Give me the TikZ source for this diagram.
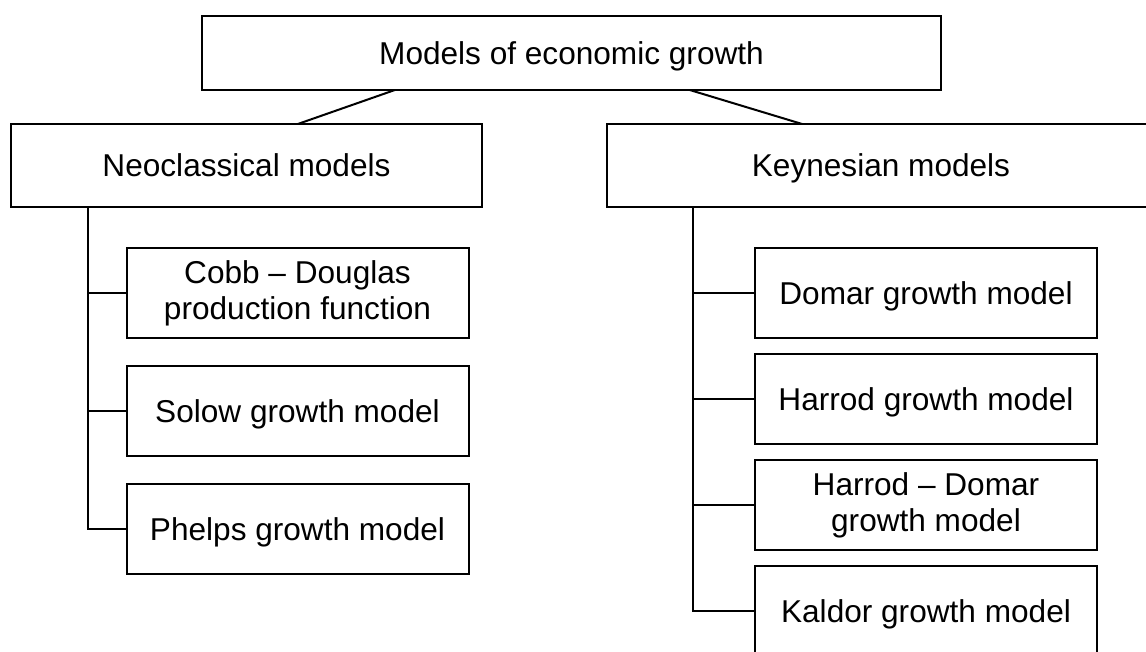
\documentclass[tikz,border=0pt]{standalone}
\usepackage{fontspec}
\setmainfont{Liberation Sans}
\usepackage{tikz}
\usetikzlibrary{positioning,calc}

\begin{document}
\begin{tikzpicture}[
        x=0.75pt, y=-0.75pt,
        font=\fontsize{23.7}{27}\selectfont,
        box/.style={draw, line width=1.5pt, align=center, inner sep=0pt, outer sep=0pt},
        oneline/.style={text depth=0pt},
        headbox/.style={box, oneline, minimum width=554.25pt, minimum height=55.5pt},
        groupbox/.style={box, oneline, minimum height=62.25pt},
        modelbox/.style={box, minimum width=256.5pt, minimum height=67.5pt},
        link/.style={line width=1.5pt}
    ]
        \clip (0,0) rectangle (1146,652);
        \node[headbox] (growth) at (571.5,53) {Models of economic growth};
        \node[groupbox, minimum width=353.25pt] (neo) at (246.5,165.5) {Neoclassical models};
        \node[groupbox, minimum width=411pt] (keyn) at (881,165.5) {Keynesian models};
        % neoclassical branch
        \node[modelbox] (cobb) at (297.5,293) {Cobb -- Douglas\\production function};
        \node[modelbox, oneline, below=21pt of cobb] (solow) {Solow growth model};
        \node[modelbox, oneline, below=21pt of solow] (phelps) {Phelps growth model};
        % keynesian branch
        \node[modelbox, oneline] (domar) at (926,293) {Domar growth model};
        \node[modelbox, oneline, below=12pt of domar] (harrod) {Harrod growth model};
        \node[modelbox, below=12pt of harrod] (hd) {Harrod -- Domar\\growth model};
        \node[modelbox, oneline, below=12pt of hd] (kaldor) {Kaldor growth model};
        \coordinate (neotrunk) at ([xshift=57.75pt]neo.south west);
        \coordinate (keyntrunk) at ([xshift=64.5pt]keyn.south west);
        \draw[link] ($(growth.south west)!0.261!(growth.south east)$) -- ($(neo.north west)!0.609!(neo.north east)$);
        \draw[link] ($(growth.south west)!0.660!(growth.south east)$) -- ($(keyn.north west)!0.356!(keyn.north east)$);
        \draw[link] (neotrunk) |- (phelps.west);
        \draw[link] (neotrunk |- cobb.west) -- (cobb.west);
        \draw[link] (neotrunk |- solow.west) -- (solow.west);
        \draw[link] (keyntrunk) |- (kaldor.west);
        \draw[link] (keyntrunk |- domar.west) -- (domar.west);
        \draw[link] (keyntrunk |- harrod.west) -- (harrod.west);
        \draw[link] (keyntrunk |- hd.west) -- (hd.west);
    \end{tikzpicture}
\end{document}
